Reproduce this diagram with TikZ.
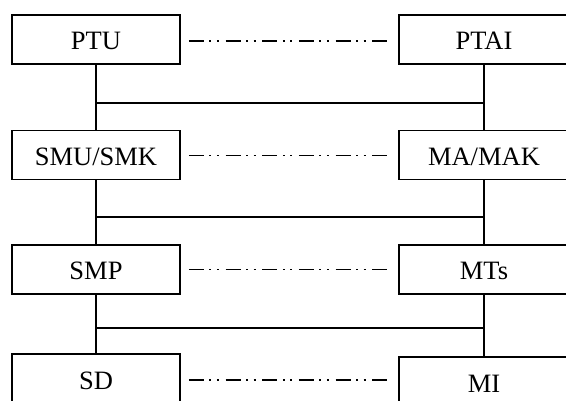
\documentclass[tikz,border=0pt]{standalone}
\usepackage{fontspec}
\setmainfont{Liberation Serif}
\begin{document}
\begin{tikzpicture}[x=1pt,y=-1pt,
  box/.style={draw,line width=1.7pt,minimum height=49pt,inner sep=0pt,
    text height=21pt,text depth=0pt,font=\fontsize{26.5}{30}\selectfont},
  lbox/.style={box,minimum width=168pt},
  rbox/.style={box,minimum width=170pt},
  link/.style={line width=1.7pt},
  dd/.style={line width=1.8pt,dash pattern=on 15pt off 5.5pt on 2pt off 5.5pt on 2pt off 6.7pt,
    shorten <=8pt,shorten >=11pt}]
\useasboundingbox (0,0) rectangle (566,401);
\clip (0,0) rectangle (566,401);
\node[lbox] (PTU) at (96,39.5) {PTU};
\node[rbox] (PTAI) at (484,39.5) {PTAI};
\node[lbox] (SMU) at (96,155) {SMU/SMK};
\node[rbox] (MA) at (484,155) {MA/MAK};
\node[lbox] (SMP) at (96,269.5) {SMP};
\node[rbox] (MTs) at (484,269.5) {MTs};
\node[lbox] (SD) at (96,378.5) {SD};
\node[rbox] (MI) at (484,381.5) {MI};
% verticals
\draw[link] (PTU) -- (SMU);
\draw[link] (SMU) -- (SMP);
\draw[link] (SMP) -- (SD);
\draw[link] (PTAI) -- (MA);
\draw[link] (MA) -- (MTs);
\draw[link] (MTs.south) -- (MI.north);
% horizontals
\coordinate (j1) at (96,103);
\coordinate (j2) at (96,217);
\coordinate (j3) at (96,328);
\draw[link] (j1) -- (j1 -| PTAI.south);
\draw[link] (j2) -- (j2 -| MA.south);
\draw[link] (j3) -- (j3 -| MTs.south);
% dash-dot
\draw[dd] ([yshift=-1.5pt]PTU.east) -- ([yshift=-1.5pt]PTAI.west);
\draw[dd] ([yshift=-0.5pt]SMU.east) -- ([yshift=-0.5pt]MA.west);
\draw[dd] (SMP.east) -- (MTs.west);
\draw[dd] ([yshift=-1.5pt]SD.east) -- ([yshift=-1.5pt]SD.east -| MI.west);
\end{tikzpicture}
\end{document}
